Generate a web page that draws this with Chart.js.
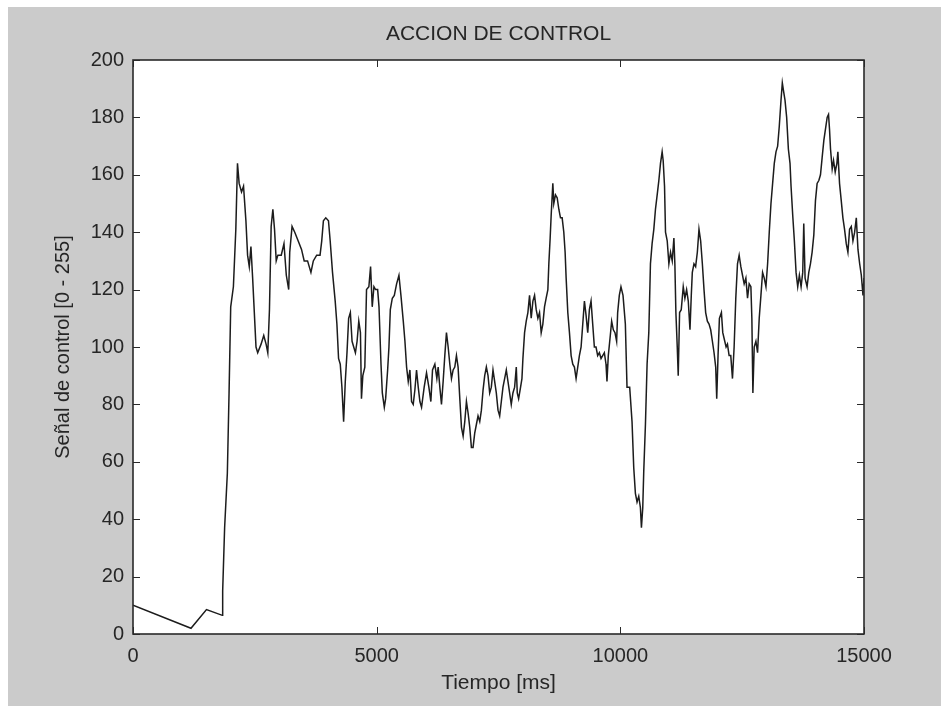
<!DOCTYPE html>
<html>
<head>
<meta charset="utf-8">
<script src="https://cdn.jsdelivr.net/npm/chart.js@4/dist/chart.umd.min.js"></script>
<style>
  html, body { margin:0; padding:0; background:#fff; }
  #wrap { position:absolute; left:8px; top:7px; width:933px; height:699px; background:#cbcbcb; }
  canvas { display:block; }
</style>
</head>
<body>
<div id="wrap"><canvas id="c" width="933" height="699"></canvas></div>
<script>
// ACCION DE CONTROL - senal de control vs tiempo
const tiempoMs = [
  0,1190,1508,1833,1840,1880,1936,1971,2005,2060,2110,2144,2178,2227,2268,2317,2351,2386,2420,2455,
  2524,2559,2628,2683,2731,2766,2800,2835,2870,2904,2939,2973,3042,3098,3146,3195,3216,3264,3319,3388,
  3458,3513,3582,3651,3700,3769,3838,3873,3907,3956,4011,4046,4094,4149,4184,4218,4253,4287,4322,4356,
  4391,4425,4460,4495,4529,4564,4598,4633,4667,4688,4716,4757,4792,4840,4875,4909,4944,4978,
  5020,5048,5089,5116,5157,5184,5225,5252,5280,5321,5362,5409,5457,5498,5546,5580,5614,5648,5682,5716,
  5750,5784,5818,5853,5887,5921,5975,6023,6071,6112,6146,6194,6235,6262,6296,6330,6364,6398,6432,6467,
  6501,6535,6569,6603,6637,6671,6706,6740,6774,6808,6842,6876,6910,6944,6978,7012,7046,7080,7115,7149,
  7183,7217,7251,7285,7319,7353,7387,7421,7455,7490,7524,7558,7592,7626,7660,7694,7728,7762,7796,7831,
  7865,7885,7913,7953,7981,8001,8035,8069,8103,8137,8171,8206,8240,8274,8308,8342,8376,8410,8444,8478,
  8513,8533,8560,8581,8615,8635,8669,8704,8738,8772,8806,8840,8867,8888,8922,8956,8990,9024,9058,9092,
  9126,9160,9195,9229,9263,9297,9331,9365,9399,9433,9467,9501,9535,9570,9604,9638,9672,9706,9726,9753,
  9794,9822,9856,9890,9924,9945,9979,
  10013,10055,10103,10137,10192,10240,10275,10309,10343,10378,10412,10433,10460,10481,10515,10549,10584,10618,10652,10687,
  10721,10756,10790,10824,10858,10879,10907,10927,10962,10996,11030,11065,11099,11119,11140,11168,11188,11216,11250,11291,
  11325,11360,11394,11429,11456,11477,11511,11545,11580,11614,11648,11683,11717,11751,11786,11820,11854,11889,11923,11957,
  11978,12005,12033,12074,12102,12143,12170,12198,12232,12266,12301,12335,12369,12404,12438,12473,12507,12541,12576,12610,
  12644,12679,12699,12720,12747,12782,12816,12850,12885,12919,12953,12988,13022,13056,13091,13125,13159,13194,13228,13262,
  13297,13324,13351,13379,13413,13448,13482,13503,13537,13571,13606,13640,13674,13709,13743,13764,13791,13832,13867,13901,
  13935,13970,14004,14038,14073,14107,14141,14176,14210,14244,14272,14292,14313,14347,14375,14409,14444,14464,14498,14533,
  14567,14601,14636,14670,14704,14739,14773,14808,14842,14876,14911,14945,14979,15000
];
const senalControl = [
  10,2,8.5,6.5,15,37,56,84,114,121,141,164,157,154,156,144,132,128,135,124,
  100,98,101,104,101,98,113,142,148,141,130,132,132,136,125,120,133,142,140,137,
  134,130,130,126,130,132,132,137,144,145,144,137,126,116,108,96,94,86,74,88,
  98,110,112,102,100,98,102,109,105,82,90,93,120,121,128,114,121,120,
  120,114,94,84,79,82,92,100,113,117,118,122,125,118,109,102,93,88,92,81,
  80,85,92,86,81,79,86,91,86,81,92,94,89,93,86,80,88,97,105,100,
  94,89,92,93,97,93,82,72,69,74,81,77,72,65,65,70,73,76,74,78,
  85,90,93,90,84,86,92,88,84,78,76,81,86,89,92,88,84,80,84,86,
  93,84,82,86,89,96,105,109,112,118,110,116,118,113,110,112,105,108,114,117,
  120,129,138,146,157,150,153,152,148,145,145,140,133,124,112,105,97,94,93,89,
  93,97,100,108,116,111,105,113,116,108,100,100,97,98,96,97,98,94,88,97,
  104,109,106,105,102,112,118,
  121,118,108,86,86,74,58,49,46,48,44,37,44,57,73,94,105,129,136,141,
  148,153,158,164,168,165,156,140,137,129,133,130,138,129,112,100,90,112,113,121,
  117,120,116,106,118,126,129,128,133,141,137,129,120,112,109,108,106,102,98,93,
  82,97,110,112,105,102,100,101,97,97,89,100,117,129,132,128,125,122,124,117,
  122,121,110,84,100,102,98,110,118,126,124,121,129,140,150,157,164,168,170,177,
  186,192,189,186,180,169,164,156,146,137,126,121,125,121,126,143,124,121,126,129,
  133,139,151,157,158,160,166,172,176,180,181,176,169,162,165,161,164,168,157,151,
  145,141,136,133,141,142,137,140,145,134,129,125,118,124
];
const xTicks = [0, 5000, 10000, 15000];
const yMin = 0, yMax = 200, yStep = 20;

const tituloGrafico = 'ACCION DE CONTROL';
const tituloX = 'Tiempo [ms]';
const tituloY = 'Señal de control [0 - 255]';

const FONT = '"Liberation Sans", Arial, sans-serif';
const INK = '#262626';

const puntos = tiempoMs.map((t,i)=>({x:t, y:senalControl[i]}));

// white plot area
const fondo = {
  id:'fondo',
  beforeDraw(chart){
    const {ctx, chartArea:a} = chart;
    ctx.save();
    ctx.fillStyle = '#ffffff';
    ctx.fillRect(a.left, a.top, a.right - a.left, a.bottom - a.top);
    ctx.restore();
  }
};

// frame + inward tick marks on all four sides, title centred over the axes
const marco = {
  id:'marco',
  afterDatasetsDraw(chart){
    const {ctx, chartArea:a, scales:{x, y}} = chart;
    const L = 7;
    ctx.save();
    ctx.strokeStyle = '#2a2a2a';
    ctx.lineWidth = 1;
    ctx.beginPath();
    for(const t of x.ticks){
      const px = Math.round(x.getPixelForValue(t.value)) + 0.5;
      ctx.moveTo(px, a.bottom); ctx.lineTo(px, a.bottom - L);
      ctx.moveTo(px, a.top); ctx.lineTo(px, a.top + L);
    }
    for(const t of y.ticks){
      const py = Math.round(y.getPixelForValue(t.value)) + 0.5;
      ctx.moveTo(a.left, py); ctx.lineTo(a.left + L, py);
      ctx.moveTo(a.right, py); ctx.lineTo(a.right - L, py);
    }
    ctx.stroke();
    ctx.lineWidth = 1.6;
    ctx.strokeRect(a.left, a.top, a.right - a.left, a.bottom - a.top);

    ctx.fillStyle = INK;
    ctx.font = '21px ' + FONT;
    ctx.textAlign = 'center';
    ctx.textBaseline = 'middle';
    ctx.fillText(tituloGrafico, (a.left + a.right) / 2, 27);
    ctx.restore();
  }
};

new Chart(document.getElementById('c').getContext('2d'), {
  type:'line',
  data:{ datasets:[{
    data: puntos,
    borderColor:'#1c1c1c',
    borderWidth:1.5,
    pointRadius:0,
    tension:0,
    fill:false
  }]},
  options:{
    responsive:false,
    animation:false,
    layout:{ padding:{left:0, top:53, right:77, bottom:0} },
    plugins:{
      legend:{display:false},
      tooltip:{enabled:false},
      title:{display:false}
    },
    scales:{
      x:{
        type:'linear', min:0, max:15000,
        afterBuildTicks(s){ s.ticks = xTicks.map(v=>({value:v})); },
        grid:{display:false, drawTicks:false},
        border:{display:false},
        ticks:{color:INK, font:{family:FONT, size:20}, padding:10, maxRotation:0,
               callback:v=>String(v)},
        title:{display:true, text:tituloX, color:INK, font:{family:FONT, size:21}, padding:{top:0, bottom:10.4}},
        afterFit(s){ s.height = 72; }
      },
      y:{
        min:yMin, max:yMax,
        ticks:{stepSize:yStep, color:INK, font:{family:FONT, size:20}, padding:9,
               callback:v=>String(v)},
        grid:{display:false, drawTicks:false},
        border:{display:false},
        title:{display:true, text:tituloY, color:INK, font:{family:FONT, size:20}, padding:{top:43.4, bottom:0}},
        afterFit(s){ s.width = 125; }
      }
    }
  },
  plugins:[fondo, marco]
});
</script>
</body>
</html>
